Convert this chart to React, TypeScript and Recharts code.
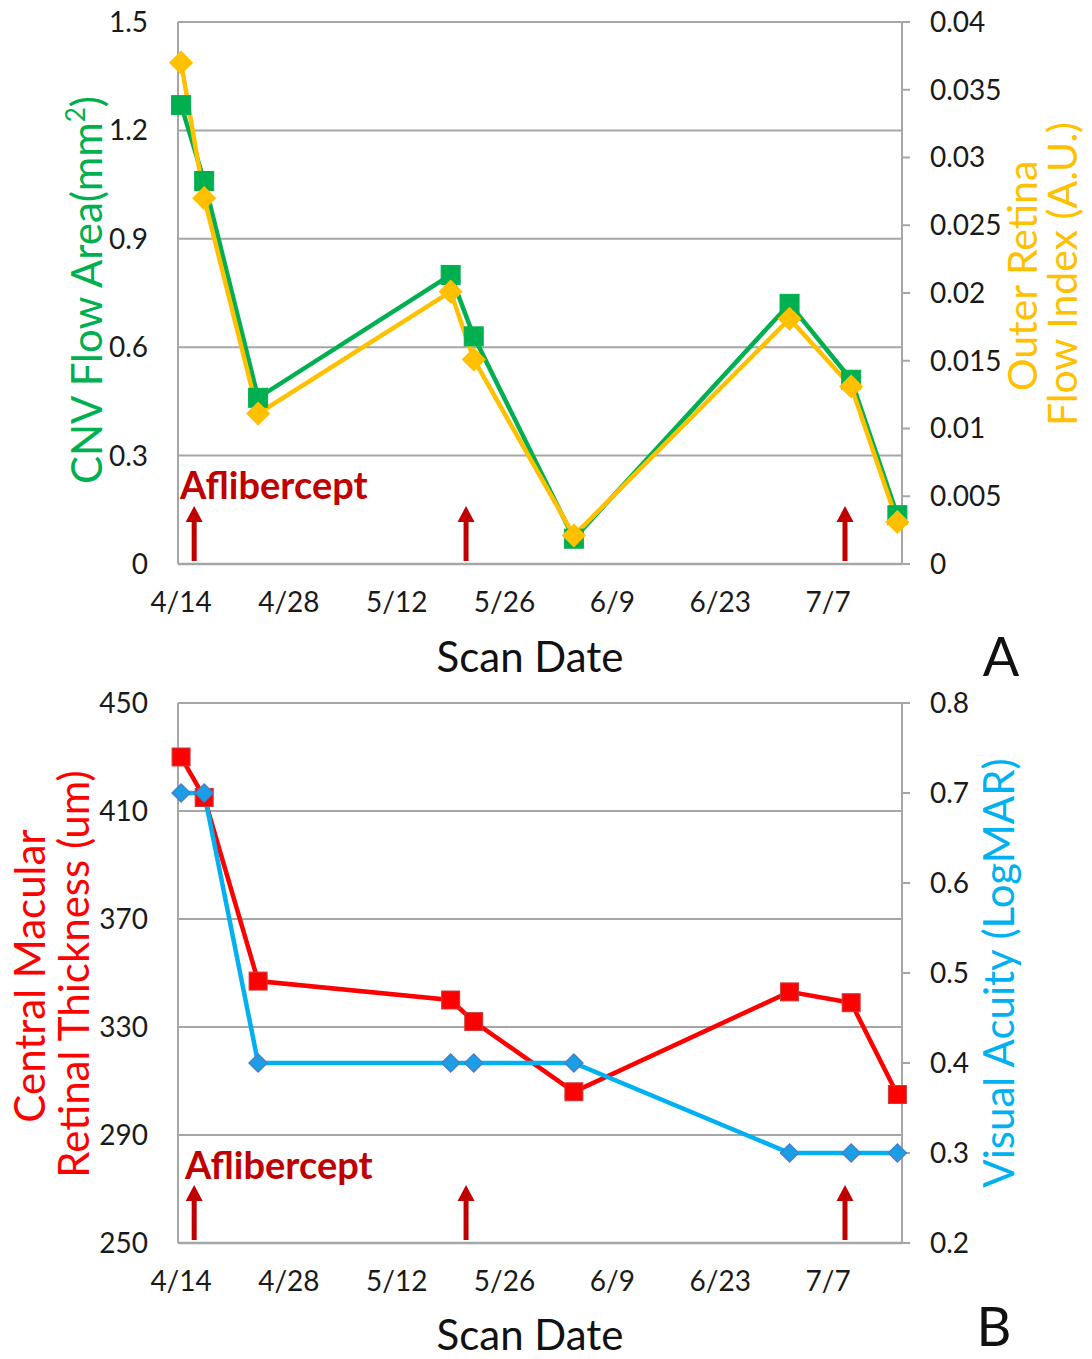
import { LineChart, Line, XAxis, YAxis, CartesianGrid, ReferenceDot } from 'recharts'

const scanDates = ['4/14', '4/17', '4/24', '5/19', '5/22', '6/4', '7/2', '7/10', '7/16']
const scanDays = [0, 3, 10, 35, 38, 51, 79, 87, 93]
const cnvFlowArea = [1.27, 1.06, 0.46, 0.8, 0.63, 0.07, 0.72, 0.51, 0.135]
const outerRetinaFlow = [0.037, 0.027, 0.0111, 0.0201, 0.0151, 0.0021, 0.0181, 0.0131, 0.0031]
const macularThickness = [430, 415, 347, 340, 332, 306, 343, 339, 305]
const visualAcuity = [0.7, 0.7, 0.4, 0.4, 0.4, 0.4, 0.3, 0.3, 0.3]
const injectionDays = [1.7, 37, 86.2]
const tickDays = [0, 14, 28, 42, 56, 70, 84]
const tickLabels = ['4/14', '4/28', '5/12', '5/26', '6/9', '6/23', '7/7']
const flowAreaTicks = [0, 0.3, 0.6, 0.9, 1.2, 1.5]
const flowIndexTicks = [0, 0.005, 0.01, 0.015, 0.02, 0.025, 0.03, 0.035, 0.04]
const thicknessTicks = [250, 290, 330, 370, 410, 450]
const acuityTicks = [0.2, 0.3, 0.4, 0.5, 0.6, 0.7, 0.8]

const dataA = scanDates.map((d, i) => ({ date: d, day: scanDays[i], area: cnvFlowArea[i], index: outerRetinaFlow[i] }))
const dataB = scanDates.map((d, i) => ({ date: d, day: scanDays[i], cmt: macularThickness[i], va: visualAcuity[i] }))

const FONT = 'Lato, "Open Sans", sans-serif'
const GRID = '#a6a6a6'
const GREEN = '#00b050'
const YELLOW = '#ffc000'
const RED = '#ff0000'
const BLUE = '#00b0f0'
const DARKRED = '#c00000'

const tickStyle = { fontFamily: FONT, fontSize: 28, fill: '#1a1a1a' }

const square = (fill: string, size: number, stroke?: string) => (p: any) => {
  if (p.cx == null || p.cy == null) return <g key={p.index} />
  return <rect key={p.index} x={p.cx - size / 2} y={p.cy - size / 2} width={size} height={size} fill={fill} stroke={stroke || fill} strokeWidth={1} />
}

const diamond = (fill: string, r: number, stroke?: string) => (p: any) => {
  if (p.cx == null || p.cy == null) return <g key={p.index} />
  const { cx, cy } = p
  return (
    <polygon key={p.index} points={`${cx},${cy - r} ${cx + r},${cy} ${cx},${cy + r} ${cx - r},${cy}`}
      fill={fill} stroke={stroke || fill} strokeWidth={1.5} />
  )
}

// injection marker: upward arrow standing on the x axis
const Arrow = (p: any) => {
  const { cx, cy } = p
  const bottom = cy - 3
  const tip = cy - 58
  return (
    <g>
      <rect x={cx - 2.5} y={tip + 14} width={5} height={bottom - tip - 14} fill={DARKRED} />
      <polygon points={`${cx},${tip} ${cx + 8.5},${tip + 16} ${cx - 8.5},${tip + 16}`} fill={DARKRED} />
    </g>
  )
}

const rot = (x: number, y: number) => `rotate(-90, ${x}, ${y})`

const TitlesA = () => (
  <g fontFamily={FONT}>
    <text x={102} y={290} transform={rot(102, 290)} textAnchor="middle" fontSize={42} fill={GREEN}>
      CNV Flow Area(mm<tspan fontSize={26} dy={-17}>2</tspan><tspan dy={17}>)</tspan>
    </text>
    <text x={1037} y={276} transform={rot(1037, 276)} textAnchor="middle" fontSize={41} fill={YELLOW}>Outer Retina</text>
    <text x={1077} y={274} transform={rot(1077, 274)} textAnchor="middle" fontSize={41} fill={YELLOW}>Flow Index (A.U.)</text>
    <text x={530} y={672} textAnchor="middle" fontSize={42} fill="#111">Scan Date</text>
    <text x={1001} y={676} textAnchor="middle" fontSize={54} fill="#111">A</text>
    <text x={180} y={499} fontSize={38} fontWeight="bold" fill={DARKRED}>Aflibercept</text>
  </g>
)

const TitlesB = () => (
  <g fontFamily={FONT}>
    <text x={45} y={296} transform={rot(45, 296)} textAnchor="middle" fontSize={42} fill={RED}>Central Macular</text>
    <text x={89} y={294} transform={rot(89, 294)} textAnchor="middle" fontSize={42} fill={RED}>Retinal Thickness (um)</text>
    <text x={1014} y={293} transform={rot(1014, 293)} textAnchor="middle" fontSize={42} fill={BLUE}>Visual Acuity (LogMAR)</text>
    <text x={530} y={670} textAnchor="middle" fontSize={42} fill="#111">Scan Date</text>
    <text x={994} y={666} textAnchor="middle" fontSize={54} fill="#111">B</text>
    <text x={185} y={499} fontSize={38} fontWeight="bold" fill={DARKRED}>Aflibercept</text>
  </g>
)

const xAxisProps = {
  dataKey: 'day',
  type: 'number' as const,
  domain: [-0.4, 93.6],
  ticks: tickDays,
  tickFormatter: (v: number) => tickLabels[tickDays.indexOf(v)] ?? '',
  tick: tickStyle,
  tickLine: false,
  tickSize: 0,
  tickMargin: 28,
  axisLine: { stroke: GRID, strokeWidth: 2.5 },
  interval: 0 as const,
}

export default function App() {
  return (
    <div style={{ position: 'absolute', left: 0, top: 0, width: 1092, height: 1359, background: '#fff', overflow: 'hidden' }}>
      <div style={{ position: 'absolute', left: 0, top: 0 }}>
        <LineChart width={1092} height={690} data={dataA} margin={{ top: 22, right: 0, bottom: 0, left: 0 }}>
          <CartesianGrid yAxisId="left" vertical={false} stroke={GRID} strokeWidth={2} />
          <XAxis {...xAxisProps} height={126} label={<TitlesA />} />
          <YAxis yAxisId="left" orientation="left" width={178} domain={[0, 1.5]} ticks={flowAreaTicks}
            tickFormatter={(v: number) => String(v)} tick={tickStyle} tickLine={false} tickSize={0} tickMargin={30}
            axisLine={{ stroke: GRID, strokeWidth: 2 }} />
          <YAxis yAxisId="right" orientation="right" width={190} domain={[0, 0.04]} ticks={flowIndexTicks}
            tickFormatter={(v: number) => String(v)} tick={tickStyle} tickLine={{ stroke: GRID, strokeWidth: 2 }} tickSize={8} tickMargin={20}
            axisLine={{ stroke: GRID, strokeWidth: 2 }} />
          {injectionDays.map((d) => (
            <ReferenceDot key={d} x={d} y={0} yAxisId="left" shape={Arrow} ifOverflow="visible" />
          ))}
          <Line yAxisId="left" type="linear" dataKey="area" stroke={GREEN} strokeWidth={4.5}
            dot={square(GREEN, 19)} activeDot={false} isAnimationActive={false} />
          <Line yAxisId="right" type="linear" dataKey="index" stroke={YELLOW} strokeWidth={4.5}
            dot={diamond(YELLOW, 11)} activeDot={false} isAnimationActive={false} />
        </LineChart>
      </div>
      <div style={{ position: 'absolute', left: 0, top: 680 }}>
        <LineChart width={1092} height={679} data={dataB} margin={{ top: 23, right: 0, bottom: 0, left: 0 }}>
          <CartesianGrid yAxisId="left" vertical={false} stroke={GRID} strokeWidth={2} />
          <XAxis {...xAxisProps} height={116} label={<TitlesB />} />
          <YAxis yAxisId="left" orientation="left" width={178} domain={[250, 450]} ticks={thicknessTicks}
            tickFormatter={(v: number) => String(v)} tick={tickStyle} tickLine={false} tickSize={0} tickMargin={30}
            axisLine={{ stroke: GRID, strokeWidth: 2 }} />
          <YAxis yAxisId="right" orientation="right" width={190} domain={[0.2, 0.8]} ticks={acuityTicks}
            tickFormatter={(v: number) => v.toFixed(1)} tick={tickStyle} tickLine={{ stroke: GRID, strokeWidth: 2 }} tickSize={8} tickMargin={20}
            axisLine={{ stroke: GRID, strokeWidth: 2 }} />
          {injectionDays.map((d) => (
            <ReferenceDot key={d} x={d} y={250} yAxisId="left" shape={Arrow} ifOverflow="visible" />
          ))}
          <Line yAxisId="left" type="linear" dataKey="cmt" stroke={RED} strokeWidth={4.5}
            dot={square(RED, 18, '#c83c3c')} activeDot={false} isAnimationActive={false} />
          <Line yAxisId="right" type="linear" dataKey="va" stroke={BLUE} strokeWidth={4.5}
            dot={diamond('#1a9fe6', 9, '#4a7ec8')} activeDot={false} isAnimationActive={false} />
        </LineChart>
      </div>
    </div>
  )
}
